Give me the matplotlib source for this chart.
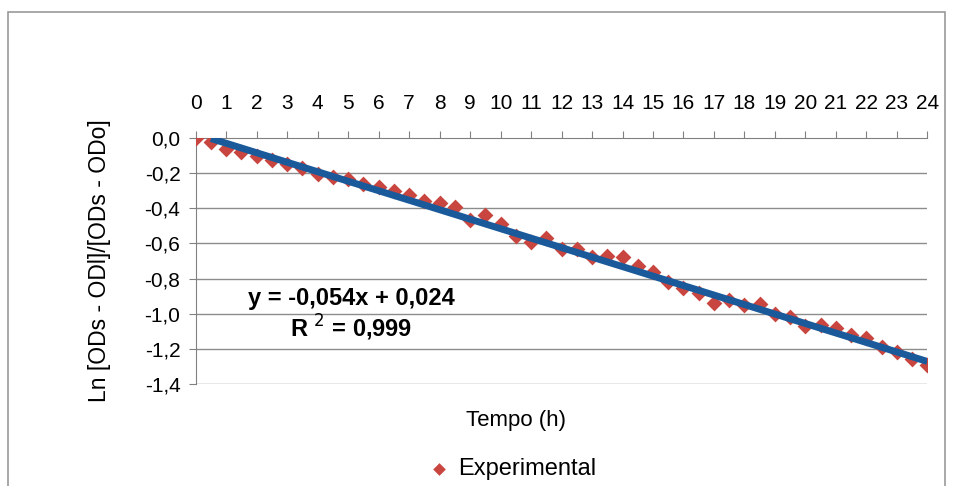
import numpy as np
import matplotlib
matplotlib.use('Agg')
import matplotlib.pyplot as plt
from matplotlib.patches import Rectangle

plt.rcParams['font.family'] = ['Liberation Sans', 'DejaVu Sans']

# tempo (h) e valores experimentais
tempo = [0, 0.5, 1, 1.5, 2, 2.5, 3, 3.5, 4, 4.5, 5, 5.5, 6, 6.5, 7, 7.5, 8, 8.5,
         9, 9.5, 10, 10.5, 11, 11.5, 12, 12.5, 13, 13.5, 14, 14.5, 15, 15.5, 16,
         16.5, 17, 17.5, 18, 18.5, 19, 19.5, 20, 20.5, 21, 21.5, 22, 22.5, 23,
         23.5, 24]
ln_od = [0.00, -0.02, -0.06, -0.08, -0.10, -0.125, -0.15, -0.17, -0.205, -0.22,
         -0.235, -0.26, -0.28, -0.30, -0.325, -0.36, -0.37, -0.39, -0.465, -0.44,
         -0.49, -0.56, -0.59, -0.57, -0.63, -0.63, -0.68, -0.67, -0.68, -0.73,
         -0.76, -0.82, -0.855, -0.88, -0.94, -0.92, -0.95, -0.945, -1.00, -1.02,
         -1.07, -1.065, -1.08, -1.12, -1.14, -1.19, -1.22, -1.26, -1.29]

# linha de tendencia
slope, intercept = -0.054, 0.024
trend_x = [0.5, 24]

xticks = list(range(0, 25))
yticks = [0.0, -0.2, -0.4, -0.6, -0.8, -1.0, -1.2, -1.4]
ylabels = ['0,0', '-0,2', '-0,4', '-0,6', '-0,8', '-1,0', '-1,2', '-1,4']

fig = plt.figure(figsize=(9.55, 4.86), dpi=100)
fig.patches.append(Rectangle((8/955, -0.05), 937/955, 1.05 - 12/486,
                             transform=fig.transFigure, fill=False,
                             edgecolor='#9a9a9a', lw=1.2))
ax = fig.add_axes([0.205, 0.210, 0.766, 0.506])

ax.scatter(tempo, ln_od, marker='D', s=65, color='#C8463F', zorder=3,
           label='Experimental', linewidths=0)
tx = np.array(trend_x)
ax.plot(tx, slope * tx + intercept, color='#1B5A9A', lw=5, zorder=4,
        solid_capstyle='butt')

ax.set_xlim(0, 24)
ax.set_ylim(-1.4, 0)
ax.xaxis.tick_top()
ax.set_xticks(xticks)
ax.set_xticklabels([str(t) for t in xticks])
ax.set_yticks(yticks)
ax.set_yticklabels(ylabels)
ax.tick_params(axis='x', direction='out', length=5, pad=13, labelsize=15,
               color='#808080')
ax.tick_params(axis='y', direction='out', length=5, pad=6, labelsize=15,
               color='#808080')
for y in yticks[1:]:
    ax.axhline(y, color='#8c8c8c', lw=1, zorder=1)
for s in ['right', 'bottom']:
    ax.spines[s].set_visible(False)
for s in ['left', 'top']:
    ax.spines[s].set_color('#808080')

ax.set_ylabel('Ln [ODs - ODl]/[ODs - ODo]', fontsize=16.5, labelpad=24)
ax.text(0.213, 0.28, 'y = -0,054x + 0,024\nR $^{2}$ = 0,999', transform=ax.transAxes,
        ha='center', va='center', fontsize=17, fontweight='bold',
        linespacing=1.1)
fig.text(0.54, 0.135, 'Tempo (h)', ha='center', va='center', fontsize=16)
fig.legend(loc='center', bbox_to_anchor=(0.53, 0.035), frameon=False,
           fontsize=17, handletextpad=-0.2, markerscale=0.8)

fig.savefig('out.png', dpi=100)
